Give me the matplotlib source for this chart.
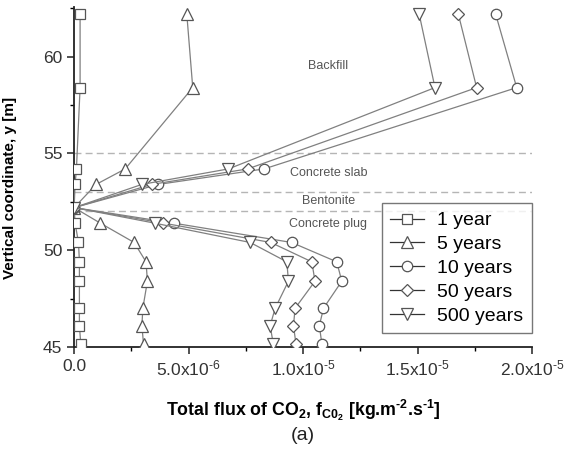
import matplotlib
matplotlib.use("Agg")
import matplotlib.pyplot as plt
from matplotlib.ticker import MultipleLocator, FixedLocator

plt.rcParams['font.family'] = ['Liberation Sans', 'DejaVu Sans']
plt.rcParams['mathtext.fontset'] = 'custom'
plt.rcParams['mathtext.rm'] = 'Liberation Sans'
plt.rcParams['mathtext.it'] = 'Liberation Sans:italic'
plt.rcParams['mathtext.bf'] = 'Liberation Sans:bold'

# vertical positions (m)
y_levels = [62.2, 58.4, 54.2, 53.4, 52.2, 51.4, 50.4, 49.4, 48.4, 47.0, 46.1, 45.15]

# total CO2 flux (x1e-6 kg m-2 s-1)
flux_1yr = [0.26, 0.26, 0.10, 0.04, 0.0, 0.04, 0.19, 0.23, 0.23, 0.23, 0.23, 0.29]
flux_5yr = [4.92, 5.18, 2.23, 0.96, 0.0, 1.14, 2.62, 3.14, 3.20, 3.00, 2.96, 3.03]
flux_10yr = [18.41, 19.33, 8.30, 3.68, 0.0, 4.34, 9.50, 11.47, 11.69, 10.89, 10.71, 10.82]
flux_50yr = [16.78, 17.58, 7.58, 3.39, 0.0, 3.90, 8.59, 10.38, 10.52, 9.65, 9.58, 9.69]
flux_500yr = [15.07, 15.76, 6.74, 2.96, 0.0, 3.51, 7.69, 9.29, 9.36, 8.78, 8.56, 8.70]

series_labels = ['1 year', '5 years', '10 years', '50 years', '500 years']
series_markers = ['s', '^', 'o', 'D', 'v']
series_data = [flux_1yr, flux_5yr, flux_10yr, flux_50yr, flux_500yr]

layer_bounds = [55, 53, 52]
layer_names = ['Backfill', 'Concrete slab', 'Bentonite', 'Concrete plug']
layer_label_y = [59.53, 54.0, 52.55, 51.35]

xticks = [0, 5e-6, 1e-5, 1.5e-5, 2e-5]
xtick_labels = ['0.0', '5.0x10$^{\u20106}$', '1.0x10$^{\u20105}$', '1.5x10$^{\u20105}$', '2.0x10$^{\u20105}$']
yticks = [45, 50, 55, 60]

fig = plt.figure(figsize=(5.66, 4.59), dpi=100)
ax = fig.add_axes([0.131, 0.244, 0.809, 0.741])

msizes = {'s': 7, '^': 8, 'o': 7.5, 'D': 6.5, 'v': 8}
for data, lab, mk in zip(series_data, series_labels, series_markers):
    xs = [v * 1e-6 for v in data]
    ax.plot(xs, y_levels, color='#808080', lw=0.9, marker=mk, markersize=msizes[mk],
            markerfacecolor='white', markeredgecolor='#555555', markeredgewidth=0.9,
            label=lab, zorder=3)

for yb in layer_bounds:
    ax.axhline(yb, xmin=0, xmax=1, color='#b5b5b5', lw=1.0, ls=(0, (5, 3)), zorder=1)

for name, yy in zip(layer_names, layer_label_y):
    ax.text(1.11e-5, yy, name, ha='center', va='center', fontsize=9, color='#555555')

ax.set_xlim(0, 2e-5)
ax.set_ylim(45, 62.57)
ax.xaxis.set_major_locator(FixedLocator(xticks))
ax.set_xticklabels(xtick_labels)
ax.xaxis.set_minor_locator(MultipleLocator(2.5e-6))
ax.yaxis.set_major_locator(FixedLocator(yticks))
ax.yaxis.set_minor_locator(MultipleLocator(2.5))
ax.tick_params(axis='both', which='major', direction='out', length=5, width=1.1, labelsize=12.5,
               colors='#222222', labelcolor='#333333')
ax.tick_params(axis='both', which='minor', direction='out', length=3, width=1.0)

for s in ['top', 'right']:
    ax.spines[s].set_visible(False)
for s in ['left', 'bottom']:
    ax.spines[s].set_linewidth(1.3)
    ax.spines[s].set_color('#222222')

ax.set_ylabel('Vertical coordinate, y [m]', fontsize=11, fontweight='bold', labelpad=8)
ax.yaxis.set_label_coords(-0.125, 0.468)
ax.set_xlabel('Total flux of CO$_\\mathbf{2}$, f$_{\\mathbf{C0_2}}$ [kg.m$^\\mathbf{\u20102}$.s$^\\mathbf{\u20101}$]',
              fontsize=12.8, fontweight='bold', labelpad=14)
fig.text(0.535, 0.052, '(a)', ha='center', va='center', fontsize=14, color='#222222')

leg = ax.legend(loc='lower right', bbox_to_anchor=(1.0, 0.04), borderaxespad=0, fontsize=14,
                frameon=True, fancybox=False, edgecolor='#555555', handlelength=1.7,
                handletextpad=0.7, labelspacing=0.32, borderpad=0.45)
leg.get_frame().set_linewidth(1.0)
for h in leg.get_lines():
    h.set_color('#333333')

fig.savefig('out.png', dpi=100)
